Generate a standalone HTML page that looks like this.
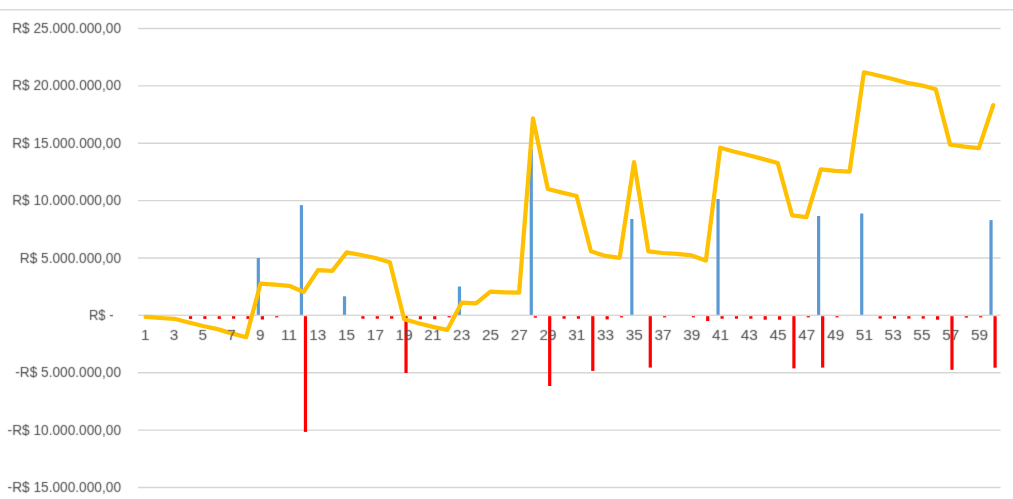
<!DOCTYPE html>
<html><head><meta charset="utf-8"><style>
html,body{margin:0;padding:0;background:#fff;width:1013px;height:499px;overflow:hidden}
svg{display:block}
.yl,.xl{will-change:transform}
.g line{stroke:#d6d6d6;stroke-width:1.45}
.yl text{font-family:"Liberation Sans",sans-serif;font-size:14.5px;fill:#4b4b4b;text-anchor:end}
.xl text{font-family:"Liberation Sans",sans-serif;font-size:14px;fill:#4b4b4b;text-anchor:middle}
.b{fill:#5b9bd5}
.r{fill:#ff0000}
</style></head><body>
<svg width="1013" height="499" viewBox="0 0 1013 499">
<defs><filter id="bl" x="0" y="0" width="1013" height="499" filterUnits="userSpaceOnUse" color-interpolation-filters="sRGB"><feConvolveMatrix order="3" kernelMatrix="0.0144 0.0912 0.0144 0.0912 0.5776 0.0912 0.0144 0.0912 0.0144" edgeMode="none"/></filter></defs>
<rect width="1013" height="499" fill="#fff"/>
<line x1="0" x2="1013" y1="9.75" y2="9.75" stroke="#d9d9d9" stroke-width="1.4"/>
<g class="g"><line x1="138.0" x2="1000.6" y1="28.50" y2="28.50"/><line x1="138.0" x2="1000.6" y1="85.88" y2="85.88"/><line x1="138.0" x2="1000.6" y1="143.25" y2="143.25"/><line x1="138.0" x2="1000.6" y1="200.62" y2="200.62"/><line x1="138.0" x2="1000.6" y1="258.00" y2="258.00"/><line x1="138.0" x2="1000.6" y1="315.38" y2="315.38"/><line x1="138.0" x2="1000.6" y1="372.75" y2="372.75"/><line x1="138.0" x2="1000.6" y1="430.12" y2="430.12"/><line x1="138.0" x2="1000.6" y1="487.50" y2="487.50"/></g>
<g><rect class="b" x="256.72" y="258.00" width="3.2" height="57.40"/><rect class="b" x="299.82" y="205.10" width="3.2" height="110.30"/><rect class="b" x="342.92" y="296.30" width="3.2" height="19.10"/><rect class="b" x="457.85" y="286.50" width="3.2" height="28.90"/><rect class="b" x="529.68" y="149.00" width="3.2" height="166.40"/><rect class="b" x="630.25" y="219.00" width="3.2" height="96.40"/><rect class="b" x="716.45" y="199.00" width="3.2" height="116.40"/><rect class="b" x="817.02" y="216.00" width="3.2" height="99.40"/><rect class="b" x="860.12" y="213.50" width="3.2" height="101.90"/><rect class="b" x="989.42" y="220.10" width="3.2" height="95.30"/><rect class="r" x="188.93" y="316.2" width="3.2" height="2.70"/><rect class="r" x="203.30" y="316.2" width="3.2" height="2.70"/><rect class="r" x="217.67" y="316.2" width="3.2" height="2.70"/><rect class="r" x="232.03" y="316.2" width="3.2" height="2.50"/><rect class="r" x="246.40" y="316.2" width="3.2" height="2.70"/><rect class="r" x="260.77" y="316.2" width="3.2" height="3.30"/><rect class="r" x="275.13" y="316.2" width="3.2" height="1.20"/><rect class="r" x="303.87" y="316.2" width="3.2" height="115.70"/><rect class="r" x="361.33" y="316.2" width="3.2" height="2.50"/><rect class="r" x="375.70" y="316.2" width="3.2" height="2.50"/><rect class="r" x="390.07" y="316.2" width="3.2" height="2.50"/><rect class="r" x="404.43" y="316.2" width="3.2" height="56.80"/><rect class="r" x="418.80" y="316.2" width="3.2" height="3.10"/><rect class="r" x="433.17" y="316.2" width="3.2" height="3.10"/><rect class="r" x="447.53" y="316.2" width="3.2" height="1.20"/><rect class="r" x="533.73" y="316.2" width="3.2" height="1.50"/><rect class="r" x="548.10" y="316.2" width="3.2" height="69.80"/><rect class="r" x="562.47" y="316.2" width="3.2" height="2.50"/><rect class="r" x="576.83" y="316.2" width="3.2" height="2.50"/><rect class="r" x="591.20" y="316.2" width="3.2" height="54.70"/><rect class="r" x="605.57" y="316.2" width="3.2" height="3.20"/><rect class="r" x="619.93" y="316.2" width="3.2" height="1.20"/><rect class="r" x="648.67" y="316.2" width="3.2" height="51.40"/><rect class="r" x="663.03" y="316.2" width="3.2" height="1.20"/><rect class="r" x="691.77" y="316.2" width="3.2" height="1.20"/><rect class="r" x="706.13" y="316.2" width="3.2" height="4.80"/><rect class="r" x="720.50" y="316.2" width="3.2" height="2.50"/><rect class="r" x="734.87" y="316.2" width="3.2" height="2.50"/><rect class="r" x="749.23" y="316.2" width="3.2" height="2.50"/><rect class="r" x="763.60" y="316.2" width="3.2" height="3.50"/><rect class="r" x="777.97" y="316.2" width="3.2" height="3.50"/><rect class="r" x="792.33" y="316.2" width="3.2" height="52.20"/><rect class="r" x="806.70" y="316.2" width="3.2" height="1.20"/><rect class="r" x="821.07" y="316.2" width="3.2" height="51.40"/><rect class="r" x="835.43" y="316.2" width="3.2" height="1.20"/><rect class="r" x="878.53" y="316.2" width="3.2" height="2.40"/><rect class="r" x="892.90" y="316.2" width="3.2" height="2.40"/><rect class="r" x="907.27" y="316.2" width="3.2" height="2.40"/><rect class="r" x="921.63" y="316.2" width="3.2" height="2.40"/><rect class="r" x="936.00" y="316.2" width="3.2" height="3.50"/><rect class="r" x="950.37" y="316.2" width="3.2" height="53.60"/><rect class="r" x="964.73" y="316.2" width="3.2" height="1.40"/><rect class="r" x="979.10" y="316.2" width="3.2" height="1.20"/><rect class="r" x="993.47" y="316.2" width="3.2" height="51.50"/></g>
<line x1="138.0" x2="1000.6" y1="315.38" y2="315.38" stroke="#d9d9d9" stroke-width="1.3"/>
<polyline points="145.58,316.90 159.95,318.00 174.32,318.80 188.68,322.50 203.05,326.00 217.42,329.10 231.78,333.40 246.15,337.20 260.52,283.70 274.88,284.70 289.25,285.80 303.62,292.00 317.98,270.20 332.35,270.80 346.72,252.30 361.08,255.00 375.45,258.00 389.82,262.20 404.18,319.30 418.55,323.30 432.92,326.90 447.28,329.90 461.65,302.70 476.02,303.30 490.38,291.60 504.75,292.40 519.12,292.60 532.98,118.40 547.85,189.00 562.22,192.60 576.58,196.00 590.95,251.30 605.32,255.90 619.68,257.80 634.05,162.10 648.42,251.40 662.78,253.00 677.15,253.80 691.52,255.40 705.88,260.60 720.25,147.70 734.62,151.70 748.98,155.20 763.35,159.10 777.72,163.00 792.08,215.30 806.45,217.10 820.82,169.40 835.18,170.90 849.55,171.60 863.92,72.30 878.28,75.50 892.65,79.00 907.02,82.90 921.38,85.30 935.75,89.20 950.12,144.60 964.48,146.70 978.85,148.10 993.22,105.10" fill="none" stroke="#ffc000" stroke-width="4.25" stroke-linejoin="round" stroke-linecap="round"/>
<g class="yl" filter="url(#bl)"><text transform="translate(121.0,33.00) scale(0.945,1)" x="0" y="0">R$ 25.000.000,00</text><text transform="translate(121.0,90.38) scale(0.945,1)" x="0" y="0">R$ 20.000.000,00</text><text transform="translate(121.0,147.75) scale(0.945,1)" x="0" y="0">R$ 15.000.000,00</text><text transform="translate(121.0,205.12) scale(0.945,1)" x="0" y="0">R$ 10.000.000,00</text><text transform="translate(121.0,262.50) scale(0.945,1)" x="0" y="0">R$ 5.000.000,00</text><text transform="translate(113.6,319.88) scale(0.9,1)" x="0" y="0">R$ -</text><text transform="translate(121.0,377.25) scale(0.945,1)" x="0" y="0">-R$ 5.000.000,00</text><text transform="translate(121.0,434.62) scale(0.945,1)" x="0" y="0">-R$ 10.000.000,00</text><text transform="translate(121.0,492.00) scale(0.945,1)" x="0" y="0">-R$ 15.000.000,00</text></g>
<g class="xl" filter="url(#bl)"><text transform="translate(145.25,340) scale(1.1,1)" x="0" y="0">1</text><text transform="translate(174.01,340) scale(1.1,1)" x="0" y="0">3</text><text transform="translate(202.78,340) scale(1.1,1)" x="0" y="0">5</text><text transform="translate(231.55,340) scale(1.1,1)" x="0" y="0">7</text><text transform="translate(260.31,340) scale(1.1,1)" x="0" y="0">9</text><text transform="translate(289.08,340) scale(1.1,1)" x="0" y="0">11</text><text transform="translate(317.84,340) scale(1.1,1)" x="0" y="0">13</text><text transform="translate(346.61,340) scale(1.1,1)" x="0" y="0">15</text><text transform="translate(375.37,340) scale(1.1,1)" x="0" y="0">17</text><text transform="translate(404.14,340) scale(1.1,1)" x="0" y="0">19</text><text transform="translate(432.90,340) scale(1.1,1)" x="0" y="0">21</text><text transform="translate(461.67,340) scale(1.1,1)" x="0" y="0">23</text><text transform="translate(490.43,340) scale(1.1,1)" x="0" y="0">25</text><text transform="translate(519.20,340) scale(1.1,1)" x="0" y="0">27</text><text transform="translate(547.96,340) scale(1.1,1)" x="0" y="0">29</text><text transform="translate(576.73,340) scale(1.1,1)" x="0" y="0">31</text><text transform="translate(605.49,340) scale(1.1,1)" x="0" y="0">33</text><text transform="translate(634.26,340) scale(1.1,1)" x="0" y="0">35</text><text transform="translate(663.03,340) scale(1.1,1)" x="0" y="0">37</text><text transform="translate(691.79,340) scale(1.1,1)" x="0" y="0">39</text><text transform="translate(720.56,340) scale(1.1,1)" x="0" y="0">41</text><text transform="translate(749.32,340) scale(1.1,1)" x="0" y="0">43</text><text transform="translate(778.09,340) scale(1.1,1)" x="0" y="0">45</text><text transform="translate(806.85,340) scale(1.1,1)" x="0" y="0">47</text><text transform="translate(835.62,340) scale(1.1,1)" x="0" y="0">49</text><text transform="translate(864.38,340) scale(1.1,1)" x="0" y="0">51</text><text transform="translate(893.15,340) scale(1.1,1)" x="0" y="0">53</text><text transform="translate(921.91,340) scale(1.1,1)" x="0" y="0">55</text><text transform="translate(950.68,340) scale(1.1,1)" x="0" y="0">57</text><text transform="translate(979.44,340) scale(1.1,1)" x="0" y="0">59</text></g>
</svg>
</body></html>
